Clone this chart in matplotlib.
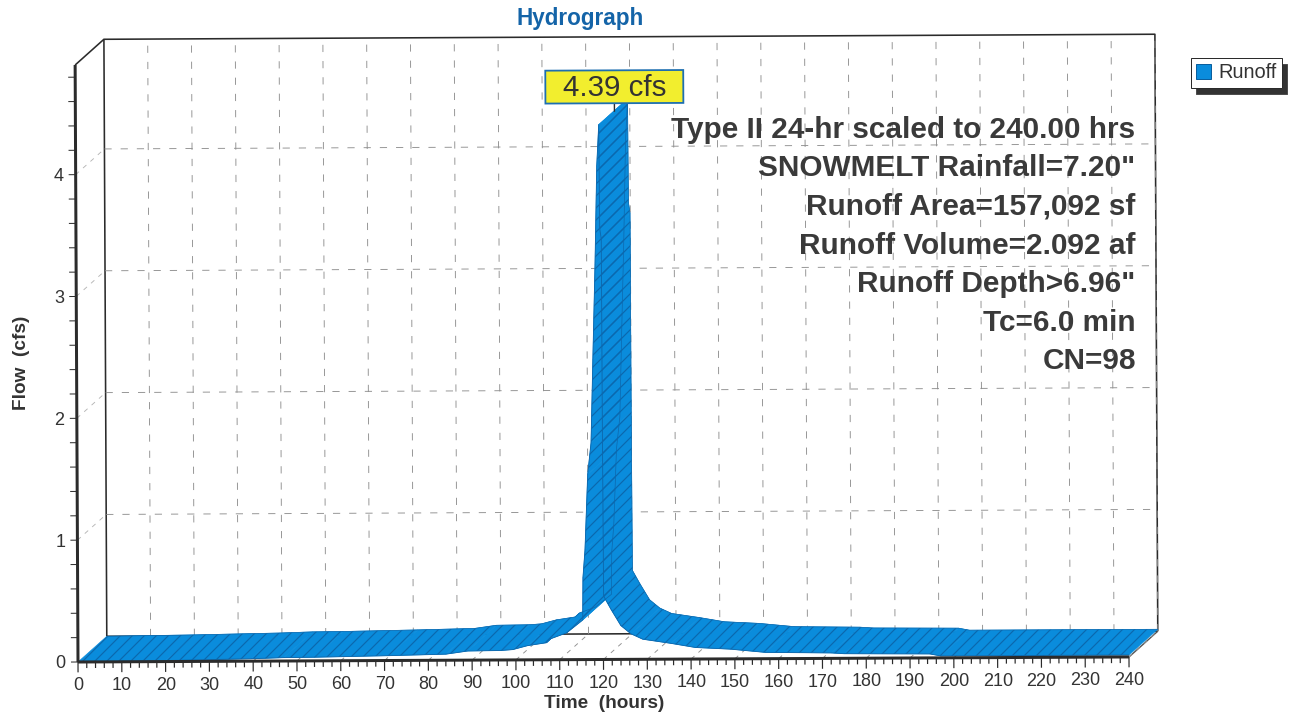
import matplotlib
matplotlib.use('Agg')
import matplotlib.pyplot as plt
from matplotlib.patches import Polygon, Patch, Rectangle
from matplotlib.transforms import Affine2D

plt.rcParams['font.family'] = ['Liberation Sans', 'DejaVu Sans']
plt.rcParams['hatch.linewidth'] = 1.2

# Hydrograph values
time_hrs = [0, 20, 39.5, 47, 54, 71, 84, 89, 96.6, 99.3, 102.7, 107, 108, 111.6, 115.3, 115.4, 115.9, 116.6,
            117.4, 117.9, 118.5, 119, 119.5, 119.6, 119.95, 120, 120.1, 121.8, 124, 126.3, 129, 135.4, 141, 149,
            157, 172, 175, 194.5, 197, 240]
flow_cfs = [0.0, 0.008, 0.02, 0.028, 0.03, 0.04, 0.05, 0.075, 0.078, 0.085, 0.117, 0.14, 0.173, 0.22, 0.325, 0.67, 0.9, 1.52,
            1.78, 2.46, 3.24, 4.05, 4.39, 3.54, 3.45, 1.82, 0.52, 0.41, 0.278, 0.21, 0.165, 0.13, 0.095, 0.08,
            0.052, 0.045, 0.038, 0.033, 0.016, 0.016]
peak_label = '4.39 cfs'
x_ticks = list(range(0, 241, 10))
y_ticks = [0, 1, 2, 3, 4]
notes = ['Type II 24-hr scaled to 240.00 hrs', 'SNOWMELT Rainfall=7.20"', 'Runoff Area=157,092 sf',
         'Runoff Volume=2.092 af', 'Runoff Depth>6.96"', 'Tc=6.0 min', 'CN=98']

# depth of the fake 3D box, in data units
dx = 6.6
dy = 0.21
x_max = 240
y_max = 4.9
ink = '#2b2b2b'
grid = '#8f8f8f'
blue = '#0a8cdc'
dark_blue = '#0c68ae'

W, H = 1296, 715
fig = plt.figure(figsize=(W / 72, H / 72), dpi=72)
ax = fig.add_axes([78 / W, 53 / H, 1051 / W, 597 / H])
ax.set_xlim(0, x_max)
ax.set_ylim(0, y_max)
ax.axis('off')

# the scan is slightly tilted
tr = ax.transData + Affine2D().rotate_deg_around(78, 53, 0.275)


def line(xs, ys, **kw):
    ax.plot(xs, ys, transform=tr, clip_on=False, solid_capstyle='butt', **kw)


# back wall and side wall
line([dx, dx, x_max + dx, x_max + dx], [dy, y_max + dy, y_max + dy, dy], color=ink, lw=1.6)
line([0, dx], [y_max, y_max + dy], color=ink, lw=1.6)
line([dx, x_max + dx], [dy, dy], color=ink, lw=1.6)
line([x_max, x_max + dx], [0, dy], color='#555555', lw=1.4)

# dashed grid on the walls and the floor
for t in x_ticks[1:]:
    line([t + dx, t + dx], [dy, y_max + dy], color=grid, lw=0.9, ls=(0, (8, 10)))
    line([t, t + dx], [0, dy], color=grid, lw=0.9, ls=(0, (5, 6)))
for v in y_ticks[1:]:
    line([dx, x_max + dx], [v + dy, v + dy], color=grid, lw=0.9, ls=(0, (8, 10)))
    line([0, dx], [v, v + dy], color='#b5b5b5', lw=0.9, ls=(0, (5, 6)))

# ribbon, one quad per time step
for i in range(len(time_hrs) - 1):
    t0, t1 = time_hrs[i], time_hrs[i + 1]
    f0, f1 = flow_cfs[i], flow_cfs[i + 1]
    quad = [(t0, f0), (t1, f1), (t1 + dx, f1 + dy), (t0 + dx, f0 + dy)]
    ax.add_patch(Polygon(quad, closed=True, facecolor=blue, edgecolor=blue, lw=0.6,
                         transform=tr, clip_on=False, zorder=3))
for i in range(len(time_hrs) - 1):
    t0, t1 = time_hrs[i], time_hrs[i + 1]
    f0, f1 = flow_cfs[i], flow_cfs[i + 1]
    quad = [(t0, f0), (t1, f1), (t1 + dx, f1 + dy), (t0 + dx, f0 + dy)]
    ax.add_patch(Polygon(quad, closed=True, facecolor='none', edgecolor=dark_blue, lw=0, hatch='//',
                         transform=tr, clip_on=False, zorder=3.1))
ax.plot(time_hrs, flow_cfs, color=dark_blue, lw=0.9, transform=tr, clip_on=False, zorder=3.2)
ax.plot([t + dx for t in time_hrs], [f + dy for f in flow_cfs], color=dark_blue, lw=0.7,
        transform=tr, clip_on=False, zorder=3.2)

# front axes and ticks
line([0, x_max], [0, 0], color=ink, lw=3, zorder=5)
line([0, 0], [0, y_max], color=ink, lw=3, zorder=5)
for t in range(0, x_max + 1, 2):
    major = t % 10 == 0
    line([t, t], [0, -0.085 if major else -0.05], color=ink, lw=1.2, zorder=5)
for v in [i * 0.2 for i in range(25)]:
    line([0, -1.6], [v, v], color=ink, lw=1.0, zorder=5)
for t in x_ticks:
    ax.text(t, -0.195, str(t), transform=tr, ha='center', va='center', fontsize=18, color='#333333')
for v in y_ticks:
    ax.text(-2.8, v - 0.015, str(v), transform=tr, ha='right', va='center', fontsize=18, color='#333333')

# labels
ax.text(120, -0.36, 'Time  (hours)', transform=tr, ha='center', va='center', fontsize=19,
        fontweight='bold', color='#333333')
ax.text(-12.6, 2.46, 'Flow  (cfs)', transform=tr, ha='center', va='center', rotation=90, fontsize=19,
        fontweight='bold', color='#333333')
ax.text(115.3, 5.265, 'Hydrograph', transform=tr, ha='center', va='center', fontsize=22.5,
        fontweight='bold', color='#1464a8')

# peak label
peak = max(flow_cfs)
peak_t = time_hrs[flow_cfs.index(peak)]
label_t = peak_t + dx / 2 + 0.3
line([label_t, label_t], [peak + dy / 2, peak + 0.2], color=ink, lw=1.4, zorder=6)
ax.add_patch(Rectangle((label_t - 15.75, peak + 0.175), 31.5, 0.27, facecolor='#f2ee2e', edgecolor='#1e6fb0',
                       lw=1.8, transform=tr, clip_on=False, zorder=7))
ax.text(label_t, peak + 0.3, peak_label, transform=tr, ha='center', va='center', fontsize=29.5,
        color='#333333', zorder=8)

# run notes
for i, s in enumerate(notes):
    ax.text(240 + 1.9, 4.326 - i * 0.3165, s, transform=tr, ha='right', va='center', fontsize=29.8,
            fontweight='bold', color='#3a3a3a', zorder=6)

fig.legend(handles=[Patch(facecolor=blue, edgecolor='#0b5f9e', label='Runoff')],
           loc='upper left', bbox_to_anchor=(1181 / W, 1 - 48 / H), fontsize=20, labelcolor='#333333',
           frameon=True, fancybox=False, edgecolor=ink, framealpha=1, borderpad=0.27,
           handlelength=0.75, handleheight=0.75, handletextpad=0.35,
           shadow={'ox': 5, 'oy': -6, 'facecolor': '#333333', 'alpha': 1})

fig.savefig('out.png', dpi=72)
